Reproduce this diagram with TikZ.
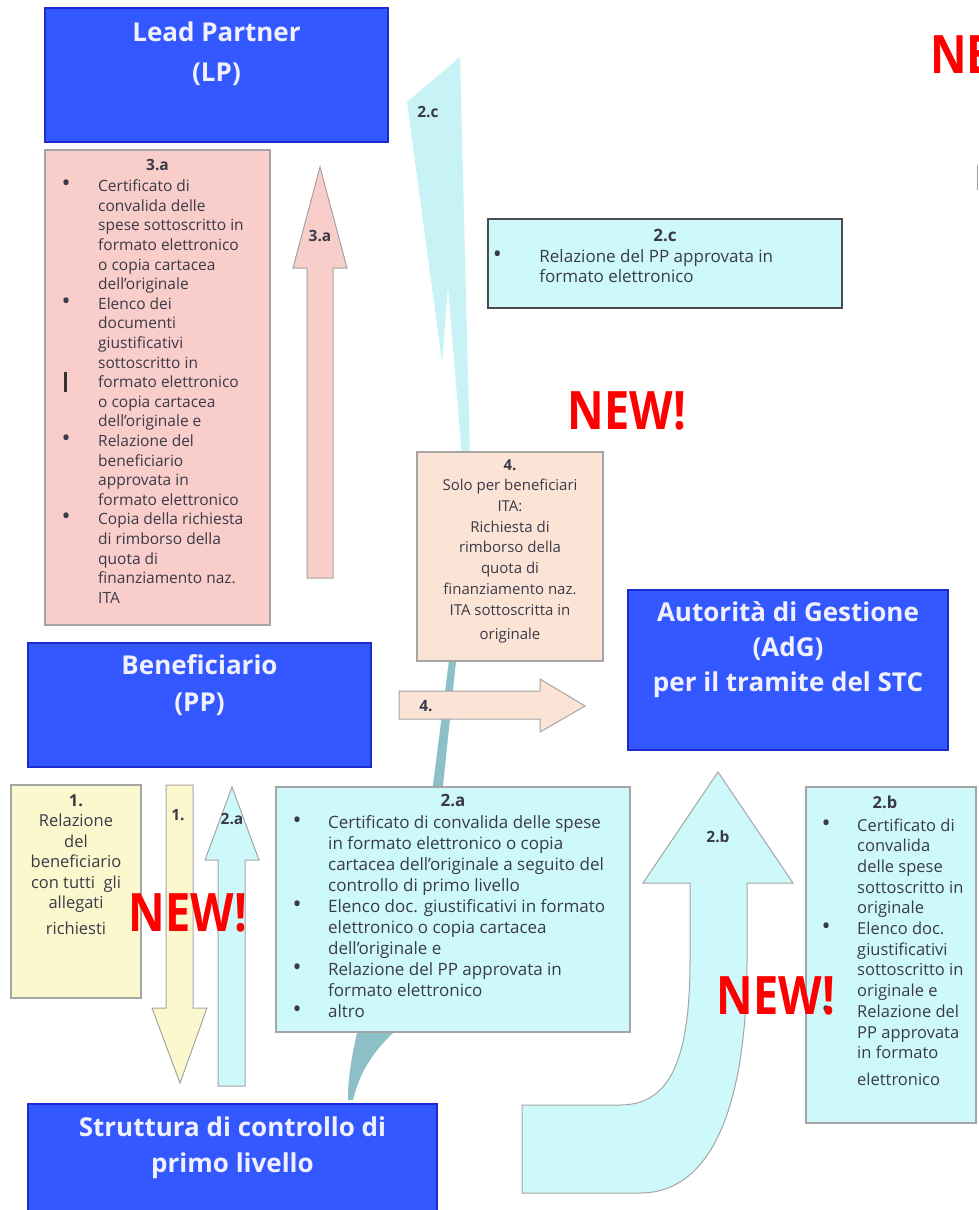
\documentclass[tikz,border=0pt]{standalone}
\usepackage{fontspec}
\usepackage{graphicx}
\setmainfont{Open Sans}
\usetikzlibrary{positioning}

\definecolor{bluefill}{RGB}{52,88,255}
\definecolor{blueedge}{RGB}{28,44,205}
\definecolor{pinkfill}{RGB}{249,205,202}
\definecolor{cyanfill}{RGB}{206,249,251}
\definecolor{peachfill}{RGB}{251,228,214}
\definecolor{yellowfill}{RGB}{252,248,206}
\definecolor{shaftlight}{RGB}{200,243,246}
\definecolor{shaftdark}{RGB}{140,192,198}
\definecolor{edgegray}{RGB}{165,165,165}
\definecolor{txtgray}{RGB}{58,58,72}
\definecolor{newred}{RGB}{255,0,0}

\newcommand{\bul}{{\fontsize{24}{20}\selectfont\textbullet}}
\newcommand{\fsz}[2]{\fontsize{#1}{#2}\selectfont}
\newcommand{\newmark}{\scalebox{0.85}[1]{NEW!}}
\newcommand{\shaftpath}{(460,57) -- (407,102) -- (442,362) -- (448,287) -- (462,457) -- (449,661) -- (433,785) -- (357,1033) .. controls (351,1060) and (348,1080) .. (348,1100) -- (353,1100) .. controls (360,1070) and (375,1050) .. (393,1033) -- (443,785) -- (456,661) -- (470,457) -- cycle}

\tikzset{
  bluebox/.style={draw=blueedge, line width=2pt, fill=bluefill, inner sep=0pt, outer sep=0pt},
  notebox/.style={draw=edgegray, line width=1.2pt, inner sep=0pt, outer sep=0pt},
  titletxt/.style={text=white!94!blue, font=\bfseries, inner sep=0pt, anchor=north},
  hdrtxt/.style={text=txtgray, font=\bfseries, inner sep=0pt, anchor=north},
  listtxt/.style={text=txtgray, inner sep=0pt, anchor=north west},
  steptxt/.style={text=txtgray, inner sep=0pt, anchor=north},
  arrowlbl/.style={text=txtgray, font=\bfseries\fsz{15.5}{17}, inner sep=0pt},
  blockarrow/.style={draw=edgegray, line width=1pt, line join=miter},
  newtxt/.style={text=newred, font=\bfseries\fsz{53}{60}, inner sep=0pt}
}

\begin{document}
\begin{tikzpicture}[x=1pt, y=-1pt]
  \fill[white] (0,0) rectangle (978,1210);
  \useasboundingbox (0,0) rectangle (978,1210);

  % 2.c arrow, thin and curved behind the boxes
  \fill[shaftlight] \shaftpath;
  \begin{scope}
    \clip (0,590) rectangle (978,1210);
    \fill[shaftdark] \shaftpath;
  \end{scope}
  \node[arrowlbl] (lblc) at (428,112) {2.c};

  % blue boxes
  \node[bluebox, minimum width=343pt, minimum height=134pt] (lp) at (216.5,75) {};
  \node[titletxt, below=5.3pt of lp.north] (lptxt) {\fsz{26}{40}\begin{tabular}{@{}c@{}}Lead Partner\\(LP)\end{tabular}};

  \node[bluebox, minimum width=343pt, minimum height=124pt] (pp) at (199.5,705) {};
  \node[titletxt, below=5.4pt of pp.north] (pptxt) {\fsz{26}{37}\begin{tabular}{@{}c@{}}Beneficiario\\(PP)\end{tabular}};

  \node[bluebox, minimum width=320pt, minimum height=160pt] (adg) at (788,670) {};
  \node[titletxt, below=6.8pt of adg.north] (adgtxt) {\fsz{26}{35}\begin{tabular}{@{}c@{}}Autorità di Gestione\\(AdG)\\per il tramite del STC\end{tabular}};

  \node[bluebox, minimum width=409pt, minimum height=124pt] (flc) at (232.5,1166) {};
  \node[titletxt, below=7.1pt of flc.north] (flctxt) {\fsz{26}{36}\begin{tabular}{@{}c@{}}Struttura di controllo di\\primo livello\end{tabular}};

  % 3.a
  \node[notebox, fill=pinkfill, minimum width=225pt, minimum height=475pt] (boxtrea) at (157.5,387.5) {};
  \node[hdrtxt, below=9.5pt of boxtrea.north] (hdrtrea) {\fsz{15.5}{19.6}3.a};
  \node[listtxt, below right=27.8pt and 16.4pt of boxtrea.north west] (listtrea) {\fsz{15.5}{19.6}%
    \begin{tabular}{@{}p{36.6pt}@{}l@{}}
      \bul & Certificato di\\
           & convalida delle\\
           & spese sottoscritto in\\
           & formato elettronico\\
           & o copia cartacea\\
           & dell'originale\\
      \bul & Elenco dei\\
           & documenti\\
           & giustificativi\\
           & sottoscritto in\\
           & formato elettronico\\
           & o copia cartacea\\
           & dell'originale e\\
      \bul & Relazione del\\
           & beneficiario\\
           & approvata in\\
           & formato elettronico\\
      \bul & Copia della richiesta\\
           & di rimborso della\\
           & quota di\\
           & finanziamento naz.\\
           & ITA
    \end{tabular}};
  \fill[black!80] (64,372) rectangle (67,392);
  \draw[blockarrow, fill=pinkfill] (307,578) -- (307,268) -- (293,268) -- (320,167) -- (347,268) -- (333,268) -- (333,578) -- cycle;
  \node[arrowlbl] (lbltrea) at (320,236) {3.a};

  % 2.c
  \node[draw=black!70, line width=1.5pt, fill=cyanfill, inner sep=0pt, minimum width=354pt, minimum height=89pt] (boxc) at (665,263.5) {};
  \node[hdrtxt, below=10.9pt of boxc.north] (hdrc) {\fsz{17}{20}2.c};
  \node[listtxt, below right=30pt and 5.4pt of boxc.north west] (listc) {\fsz{17}{20}%
    \begin{tabular}{@{}p{46.6pt}@{}l@{}}
      \bul & Relazione del PP approvata in\\
           & formato elettronico
    \end{tabular}};

  % 4.
  \node[notebox, fill=peachfill, minimum width=186pt, minimum height=209pt] (boxfour) at (510,556.5) {};
  \node[steptxt, below=3.5pt of boxfour.north] (txtfour) {\fsz{15}{20.7}%
    \begin{tabular}{@{}c@{}}
      \textbf{4.}\\
      Solo per beneficiari\\
      ITA:\\
      Richiesta di\\
      rimborso della\\
      quota di\\
      finanziamento naz.\\
      ITA sottoscritta in\\[4pt]
      originale
    \end{tabular}};
  \draw[blockarrow, fill=peachfill] (399,691) -- (540,691) -- (540,679) -- (585,706) -- (540,732) -- (540,719) -- (399,719) -- cycle;
  \node[arrowlbl] (lblfour) at (426,706) {4.};

  % 1.
  \node[notebox, fill=yellowfill, minimum width=130pt, minimum height=213pt] (boxone) at (76,891.5) {};
  \node[steptxt, below=6.6pt of boxone.north] (txtone) {\fsz{16.5}{20.5}%
    \begin{tabular}{@{}c@{}}
      \textbf{1.}\\
      Relazione\\
      del\\
      beneficiario\\
      con tutti\ \ gli\\
      allegati\\[5pt]
      richiesti
    \end{tabular}};
  \draw[blockarrow, fill=yellowfill] (166,785) -- (193,785) -- (193,1008) -- (207,1008) -- (180,1083) -- (152,1008) -- (166,1008) -- cycle;
  \node[arrowlbl] (lblone) at (178,815) {1.};

  % 2.a
  \draw[blockarrow, fill=cyanfill] (218,1086) -- (218,860) -- (205,860) -- (232,787) -- (259,860) -- (245,860) -- (245,1086) -- cycle;
  \node[arrowlbl] (lbla) at (232,819) {2.a};
  \node[notebox, fill=cyanfill, minimum width=354pt, minimum height=245pt] (boxa) at (453,909.5) {};
  \node[hdrtxt, below=6.9pt of boxa.north] (hdra) {\fsz{17}{21}2.a};
  \node[listtxt, below right=26.3pt and 16.4pt of boxa.north west] (lista) {\fsz{17}{21}%
    \begin{tabular}{@{}p{35.6pt}@{}l@{}}
      \bul & Certificato di convalida delle spese\\
           & in formato elettronico o copia\\
           & cartacea dell'originale a seguito del\\
           & controllo di primo livello\\
      \bul & Elenco doc. giustificativi in formato\\
           & elettronico o copia cartacea\\
           & dell'originale e\\
      \bul & Relazione del PP approvata in\\
           & formato elettronico\\
      \bul & altro
    \end{tabular}};

  % 2.b
  \draw[blockarrow, fill=cyanfill] (643,883) -- (718,772) -- (793,883) -- (747,883) -- (747,960) .. controls (747,1110) and (710,1193) .. (640,1193) -- (522,1193) -- (522,1105) -- (620,1105) .. controls (670,1105) and (690,1060) .. (690,960) -- (690,883) -- cycle;
  \node[arrowlbl] (lblb) at (718,837) {2.b};
  \node[notebox, fill=cyanfill, minimum width=170pt, minimum height=336pt] (boxb) at (891,955) {};
  \node[hdrtxt, below=9.1pt of boxb.north, xshift=-6pt] (hdrb) {\fsz{16.5}{20.7}2.b};
  \node[listtxt, below right=29.3pt and 15.4pt of boxb.north west] (listb) {\fsz{16.5}{20.7}%
    \begin{tabular}{@{}p{35.6pt}@{}l@{}}
      \bul & Certificato di\\
           & convalida\\
           & delle spese\\
           & sottoscritto in\\
           & originale\\
      \bul & Elenco doc.\\
           & giustificativi\\
           & sottoscritto in\\
           & originale e\\
      \bul & Relazione del\\
           & PP approvata\\
           & in formato\\[6pt]
           & elettronico
    \end{tabular}};
  \draw[edgegray, line width=1pt] (977,165) -- (977,190);

  % NEW! marks
  \node[newtxt] (newmid) at (627,411) {\newmark};
  \node[newtxt] (newleft) at (188,913) {\newmark};
  \node[newtxt] (newright) at (776,996) {\newmark};
  \node[newtxt, anchor=west] (newtop) at (930,55) {\scalebox{0.85}[1]{NE}};
\end{tikzpicture}
\end{document}
